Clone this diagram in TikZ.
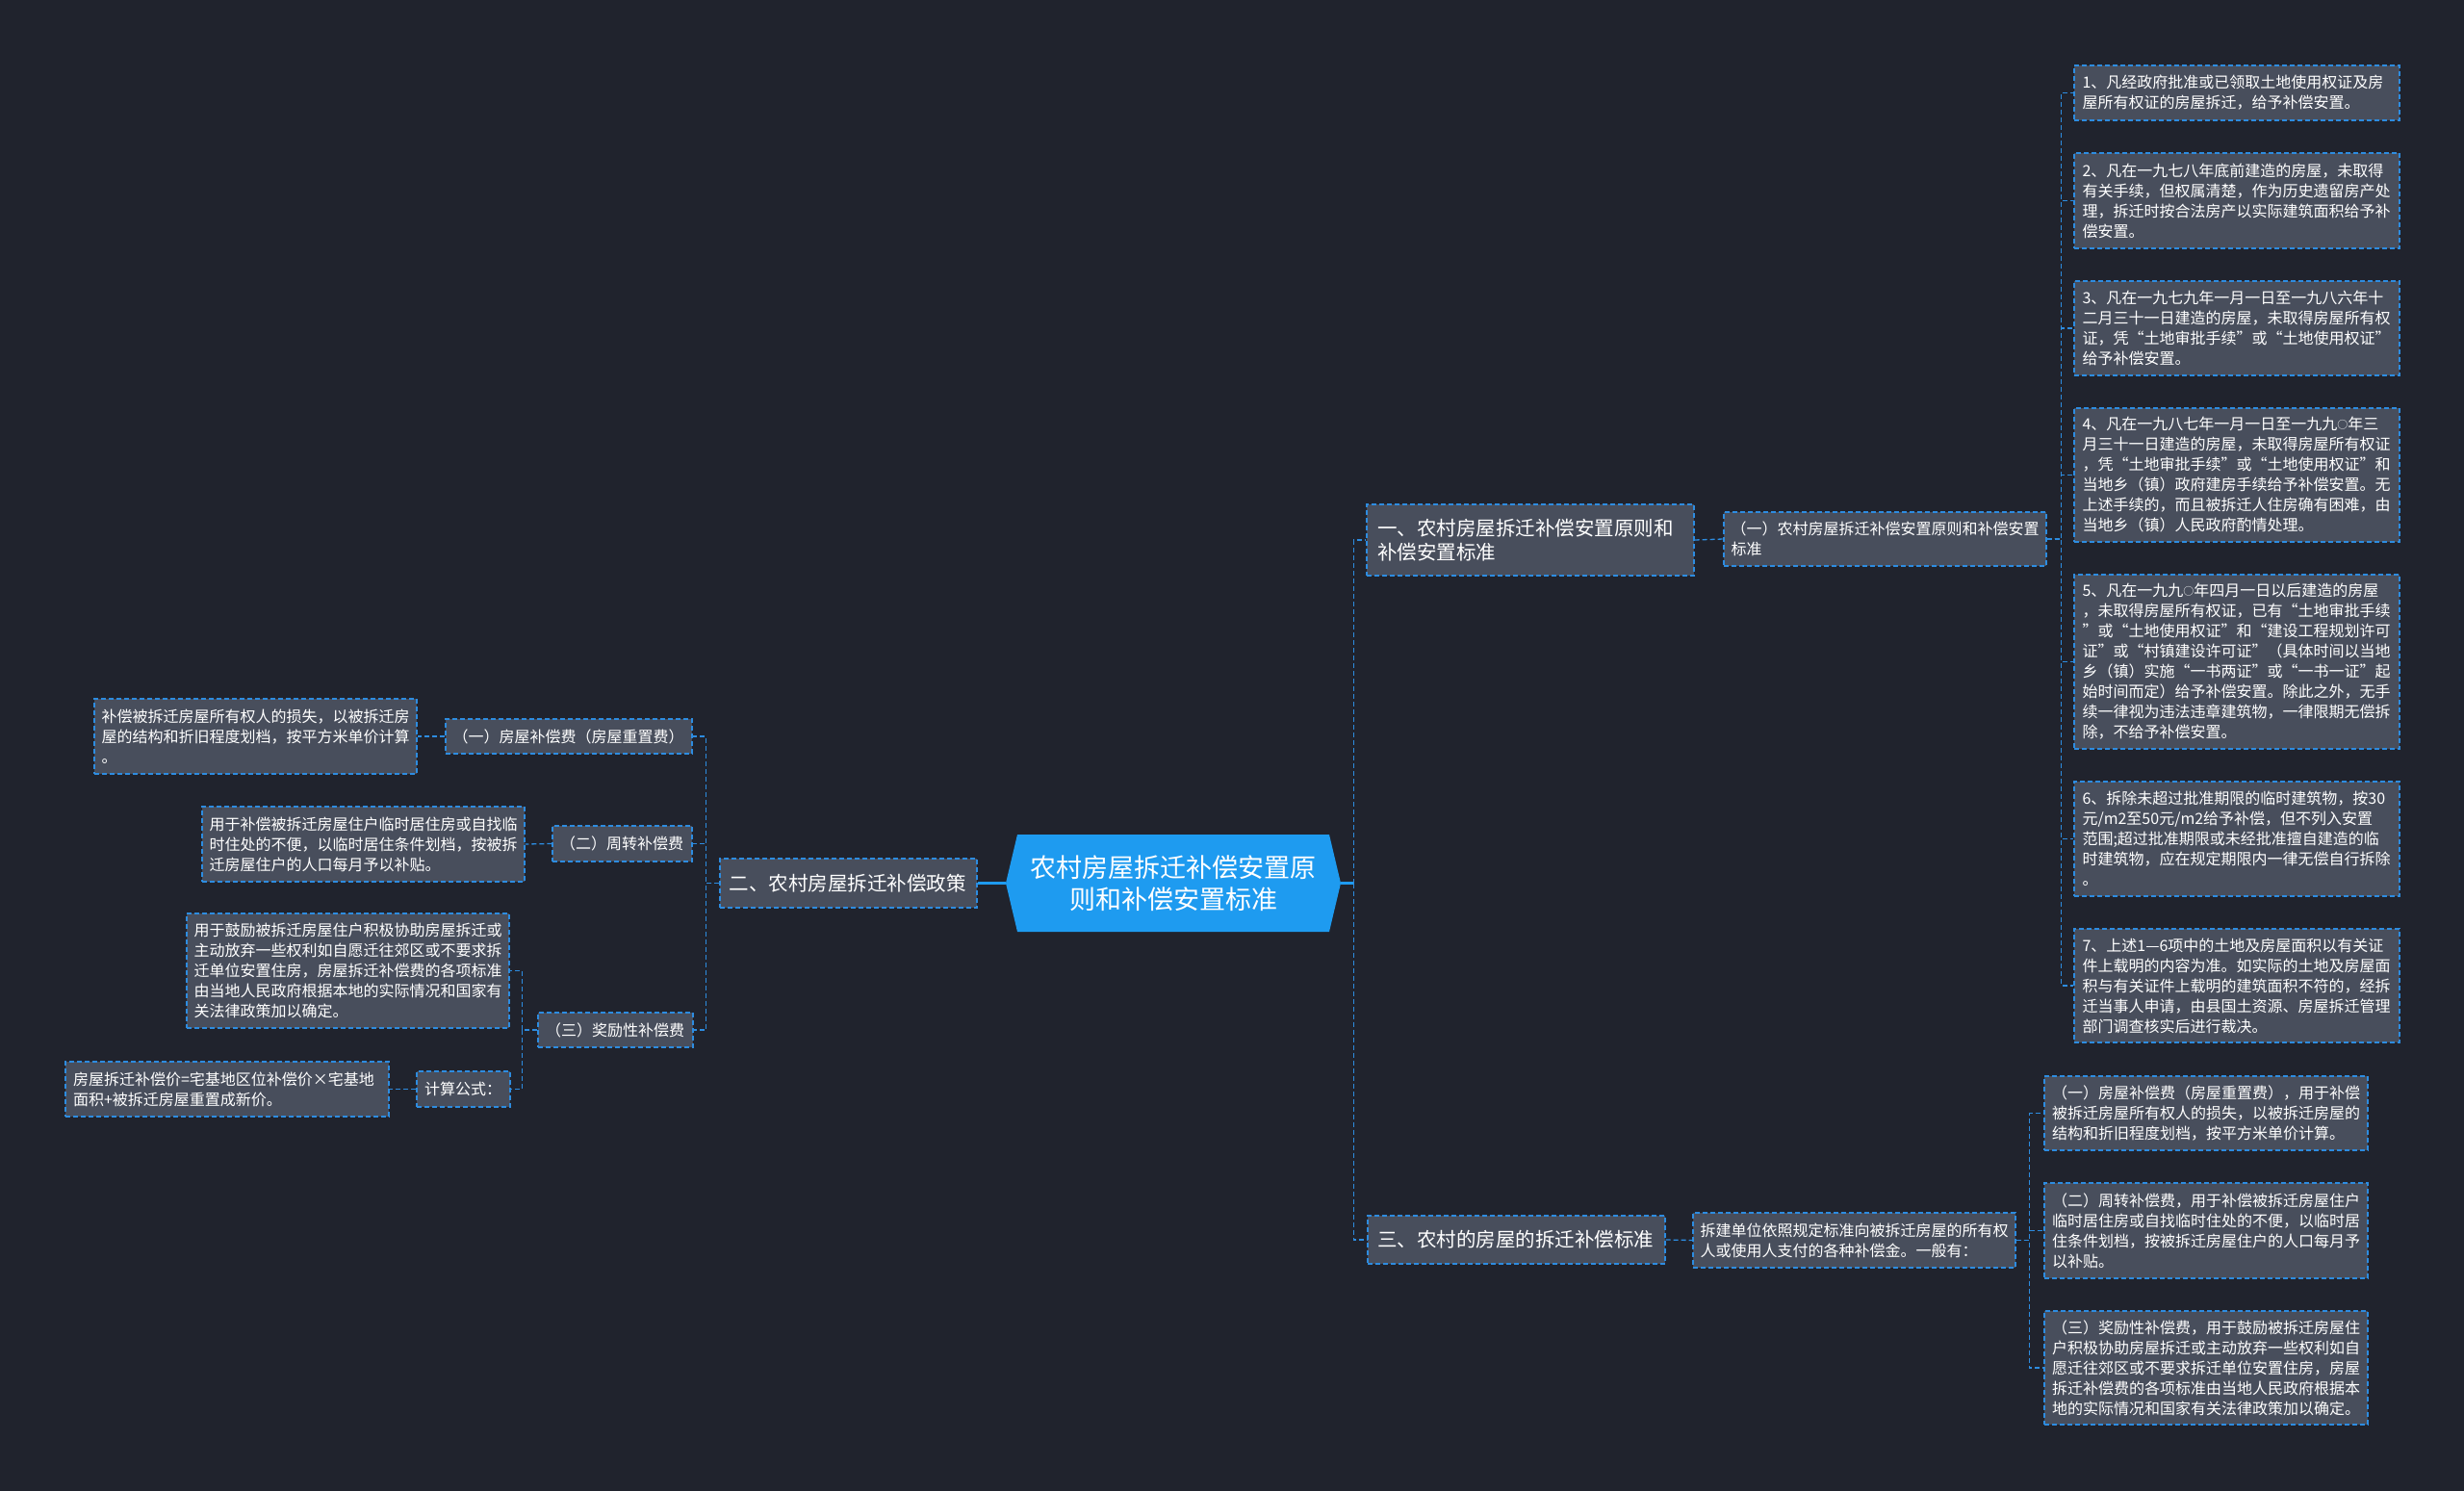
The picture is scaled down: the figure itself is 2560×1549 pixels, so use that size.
\documentclass[tikz,border=0pt]{standalone}
\usepackage{fontspec}
\setmainfont{Noto Sans CJK SC}
\definecolor{bgc}{HTML}{20232D}
\definecolor{boxc}{HTML}{484E5C}
\definecolor{linec}{HTML}{2D8CE0}
\definecolor{centc}{HTML}{1E9BF0}
\newcommand\smo{\raisebox{1pt}{\fontsize{11}{21}\selectfont ○}}
\begin{document}
\begin{tikzpicture}[x=1pt,y=-1pt,
  box/.style={draw=linec, fill=boxc, line width=1.3pt, dash pattern=on 5pt off 3pt,
    text=white, inner sep=0pt, align=left, anchor=center},
  conn/.style={draw=linec, line width=1.3pt, dash pattern=on 5pt off 3pt},
  mainconn/.style={draw=centc, line width=2.5pt},
  fs/.style={font=\fontsize{16}{21}\selectfont},
  fm/.style={font=\fontsize{20.5}{25}\selectfont},
  fb/.style={font=\fontsize{27}{33}\selectfont}]
\fill[bgc] (0,0) rectangle (2560,1549);
\useasboundingbox (0,0) rectangle (2560,1549);

% center
\fill[centc] (1045,917.5) -- (1057,867) -- (1381,867) -- (1393,917.5) -- (1381,968) -- (1057,968) -- cycle;
\node[fb, text=white, align=center, inner sep=0pt, minimum width=348pt, minimum height=101pt] (c) at (1219,917.5) {农村房屋拆迁补偿安置原\\则和补偿安置标准};

% level 1
\node[box, fm, minimum width=340pt, minimum height=74pt, text width=318pt] (b1) at (1590,561) {一、农村房屋拆迁补偿安置原则和\\补偿安置标准};
\node[box, fm, minimum width=267pt, minimum height=51pt, text width=248pt] (b2) at (881.5,917.5) {二、农村房屋拆迁补偿政策};
\node[box, fm, minimum width=309pt, minimum height=50pt, text width=289pt] (b3) at (1575.5,1288) {三、农村的房屋的拆迁补偿标准};

% level 2 right
\node[box, fs, minimum width=335pt, minimum height=56pt, text width=320pt] (c1) at (1958.5,560) {（一）农村房屋拆迁补偿安置原则和补偿安置\\标准};
\node[box, fs, minimum width=335pt, minimum height=57pt, text width=320pt] (c3) at (1926.5,1288.5) {拆建单位依照规定标准向被拆迁房屋的所有权\\人或使用人支付的各种补偿金。一般有：};

% items
\node[box, fs, minimum width=338pt, minimum height=57pt, text width=321pt] (i1) at (2324,96.5) {1、凡经政府批准或已领取土地使用权证及房\\屋所有权证的房屋拆迁，给予补偿安置。};
\node[box, fs, minimum width=338pt, minimum height=99pt, text width=321pt] (i2) at (2324,208.5) {2、凡在一九七八年底前建造的房屋，未取得\\有关手续，但权属清楚，作为历史遗留房产处\\理，拆迁时按合法房产以实际建筑面积给予补\\偿安置。};
\node[box, fs, minimum width=338pt, minimum height=98pt, text width=321pt] (i3) at (2324,341) {3、凡在一九七九年一月一日至一九八六年十\\二月三十一日建造的房屋，未取得房屋所有权\\证，凭“土地审批手续”或“土地使用权证”\\给予补偿安置。};
\node[box, fs, minimum width=338pt, minimum height=139pt, text width=321pt] (i4) at (2324,493.5) {4、凡在一九八七年一月一日至一九九\smo 年三\\月三十一日建造的房屋，未取得房屋所有权证\\，凭“土地审批手续”或“土地使用权证”和\\当地乡（镇）政府建房手续给予补偿安置。无\\上述手续的，而且被拆迁人住房确有困难，由\\当地乡（镇）人民政府酌情处理。};
\node[box, fs, minimum width=338pt, minimum height=181pt, text width=321pt] (i5) at (2324,687.5) {5、凡在一九九\smo 年四月一日以后建造的房屋\\，未取得房屋所有权证，已有“土地审批手续\\”或“土地使用权证”和“建设工程规划许可\\证”或“村镇建设许可证”（具体时间以当地\\乡（镇）实施“一书两证”或“一书一证”起\\始时间而定）给予补偿安置。除此之外，无手\\续一律视为违法违章建筑物，一律限期无偿拆\\除，不给予补偿安置。};
\node[box, fs, minimum width=338pt, minimum height=119pt, text width=321pt] (i6) at (2324,871.5) {6、拆除未超过批准期限的临时建筑物，按30\\元/m2至50元/m2给予补偿，但不列入安置\\范围;超过批准期限或未经批准擅自建造的临\\时建筑物，应在规定期限内一律无偿自行拆除\\。};
\node[box, fs, minimum width=338pt, minimum height=118pt, text width=321pt] (i7) at (2324,1024) {7、上述1—6项中的土地及房屋面积以有关证\\件上载明的内容为准。如实际的土地及房屋面\\积与有关证件上载明的建筑面积不符的，经拆\\迁当事人申请，由县国土资源、房屋拆迁管理\\部门调查核实后进行裁决。};

% D boxes
\node[box, fs, minimum width=336pt, minimum height=77pt, text width=320pt] (d1) at (2292,1156.5) {（一）房屋补偿费（房屋重置费），用于补偿\\被拆迁房屋所有权人的损失，以被拆迁房屋的\\结构和折旧程度划档，按平方米单价计算。};
\node[box, fs, minimum width=336pt, minimum height=99pt, text width=320pt] (d2) at (2292,1278.5) {（二）周转补偿费，用于补偿被拆迁房屋住户\\临时居住房或自找临时住处的不便，以临时居\\住条件划档，按被拆迁房屋住户的人口每月予\\以补贴。};
\node[box, fs, minimum width=336pt, minimum height=118pt, text width=320pt] (d3) at (2292,1421) {（三）奖励性补偿费，用于鼓励被拆迁房屋住\\户积极协助房屋拆迁或主动放弃一些权利如自\\愿迁往郊区或不要求拆迁单位安置住房，房屋\\拆迁补偿费的各项标准由当地人民政府根据本\\地的实际情况和国家有关法律政策加以确定。};

% left side
\node[box, fs, minimum width=256pt, minimum height=36pt, text width=241pt] (l1) at (591,765) {（一）房屋补偿费（房屋重置费）};
\node[box, fs, minimum width=145pt, minimum height=37pt, text width=129pt] (l2) at (646.5,876.5) {（二）周转补偿费};
\node[box, fs, minimum width=161pt, minimum height=36pt, text width=145pt] (l3) at (639.5,1070) {（三）奖励性补偿费};
\node[box, fs, minimum width=335pt, minimum height=78pt, text width=320pt] (l1c) at (265.5,765) {补偿被拆迁房屋所有权人的损失，以被拆迁房\\屋的结构和折旧程度划档，按平方米单价计算\\。};
\node[box, fs, minimum width=335pt, minimum height=78pt, text width=320pt] (l2c) at (377.5,877) {用于补偿被拆迁房屋住户临时居住房或自找临\\时住处的不便，以临时居住条件划档，按被拆\\迁房屋住户的人口每月予以补贴。};
\node[box, fs, minimum width=335pt, minimum height=119pt, text width=320pt] (l3c) at (361.5,1008.5) {用于鼓励被拆迁房屋住户积极协助房屋拆迁或\\主动放弃一些权利如自愿迁往郊区或不要求拆\\迁单位安置住房，房屋拆迁补偿费的各项标准\\由当地人民政府根据本地的实际情况和国家有\\关法律政策加以确定。};
\node[box, fs, minimum width=97pt, minimum height=37pt, text width=81pt] (calc) at (481.5,1131.5) {计算公式：};
\node[box, fs, minimum width=336pt, minimum height=57pt, text width=320pt] (form) at (236,1131.5) {房屋拆迁补偿价=宅基地区位补偿价×宅基地\\面积+被拆迁房屋重置成新价。};

% connectors
\draw[mainconn] (c.west) -- (b2.east);
\draw[mainconn] (c.east) -- ++(13,0) coordinate (rt);
\draw[conn] (rt) |- (b1.west);
\draw[conn] (rt) |- (b3.west);

\draw[conn] (b1.east) -- (c1.west);
\foreach \n in {i1,i2,i3,i4,i5,i6,i7}{
  \draw[conn] (c1.east) -- ++(15,0) |- (\n.west);
}
\draw[conn] (b3.east) -- (c3.west);
\foreach \n in {d1,d2,d3}{
  \draw[conn] (c3.east) -- ++(14,0) |- (\n.west);
}
\foreach \n in {l1,l2,l3}{
  \draw[conn] (b2.west) -- ++(-14,0) |- (\n.east);
}
\draw[conn] (l1.west) -- (l1c.east);
\draw[conn] (l2.west) -- (l2c.east);
\draw[conn] (l3.west) -- ++(-16,0) |- (l3c.east);
\draw[conn] (l3.west) -- ++(-16,0) |- (calc.east);
\draw[conn] (calc.west) -- (form.east);
\end{tikzpicture}
\end{document}
